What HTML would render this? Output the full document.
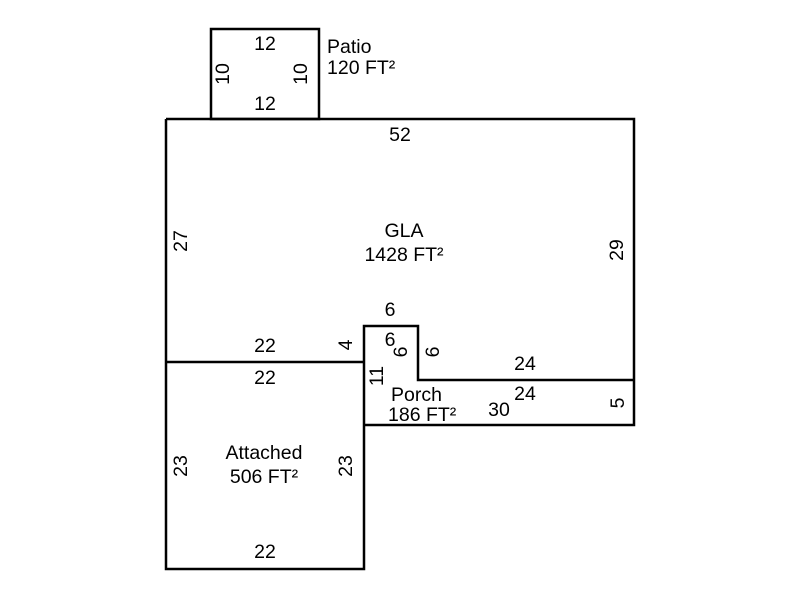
<!DOCTYPE html>
<html><head><meta charset="utf-8"><style>
html,body{margin:0;padding:0;background:#fff;}
svg{display:block;}
text{font-family:"Liberation Sans",Arial,sans-serif;font-size:19.5px;fill:#000;}
</style></head><body>
<svg width="800" height="600" viewBox="0 0 800 600" xmlns="http://www.w3.org/2000/svg">
<g fill="none" stroke="#000" stroke-width="2.5">
<rect x="211" y="29" width="108" height="90"/>
<polyline points="166,119 634,119 634,425 364,425"/>
<polyline points="166,119 166,569 364,569 364,326 418,326 418,380 634,380"/>
<line x1="166" y1="362" x2="364" y2="362"/>
</g>
<g text-anchor="middle">
<text x="265" y="50">12</text>
<text x="265" y="110">12</text>
<text x="400" y="141">52</text>
<text x="404" y="237">GLA</text>
<text x="404" y="261">1428 FT²</text>
<text x="390" y="316">6</text>
<text x="390" y="346">6</text>
<text x="265" y="352">22</text>
<text x="265" y="384">22</text>
<text x="525" y="370">24</text>
<text x="525" y="400">24</text>
<text x="499" y="416">30</text>
<text x="264" y="459">Attached</text>
<text x="264" y="483">506 FT²</text>
<text x="265" y="558">22</text>
</g>
<text x="327" y="53">Patio</text>
<text x="327" y="74">120 FT²</text>
<text x="391" y="401">Porch</text>
<text x="388" y="421">186 FT²</text>
<g text-anchor="middle">
<text transform="translate(229,74) rotate(-90)">10</text>
<text transform="translate(307,74) rotate(-90)">10</text>
<text transform="translate(187,241) rotate(-90)">27</text>
<text transform="translate(623,250) rotate(-90)">29</text>
<text transform="translate(352,345) rotate(-90)">4</text>
<text transform="translate(407,352) rotate(-90)">6</text>
<text transform="translate(439,352) rotate(-90)">6</text>
<text transform="translate(383,376) rotate(-90)">11</text>
<text transform="translate(624,403) rotate(-90)">5</text>
<text transform="translate(187,466) rotate(-90)">23</text>
<text transform="translate(352,466) rotate(-90)">23</text>
</g>
</svg>
</body></html>
